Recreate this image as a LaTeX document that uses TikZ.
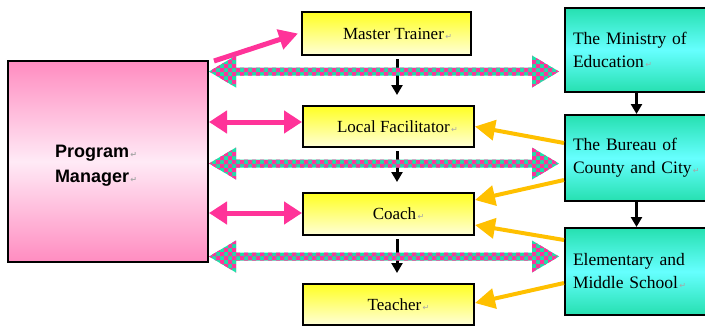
\documentclass[tikz,border=0pt]{standalone}
\usepackage{fontspec}
\setmainfont{Liberation Serif}
\newfontfamily\headfont{Liberation Sans}
\newfontfamily\symfont{DejaVu Sans}
\usetikzlibrary{arrows.meta,calc}

\definecolor{hotpink}{HTML}{FF3399}
\definecolor{chkteal}{HTML}{1EE0A8}
\definecolor{amber}{HTML}{FFC000}
\definecolor{pinkdeep}{HTML}{FF8CC0}
\definecolor{pinkpale}{HTML}{FFEAF6}
\definecolor{yel}{HTML}{FFFF22}
\definecolor{yelpale}{HTML}{FFFFD8}
\definecolor{tealtop}{HTML}{26E0B0}
\definecolor{tealmid}{HTML}{66FFFF}

% paragraph mark after each label
\newcommand\retmark{{\symfont\fontsize{8}{8}\selectfont\color{gray!70}\,↵}}

% checkered double arrow between two tips on one level:
% the outline is used as a clip, then filled with 4pt checks
\newcommand\checkarrow[2]{%
  \begin{scope}
    \clip let \p1=(#1), \p2=(#2) in
      (\x1,\y1) -- (\x1+27pt,\y1+16pt) -- (\x1+27pt,\y1+4pt) -- (\x2-27pt,\y1+4pt)
      -- (\x2-27pt,\y1+16pt) -- (\x2,\y1) -- (\x2-27pt,\y1-16pt) -- (\x2-27pt,\y1-4pt)
      -- (\x1+27pt,\y1-4pt) -- (\x1+27pt,\y1-16pt) -- cycle;
    \path (#1); \pgfgetlastxy{\cax}{\cay}%
    \pgfmathsetmacro\cpy{0-(\cay)}%
    \pgfmathtruncatemacro\jlo{floor((\cpy-4)/4)-4}%
    \pgfmathtruncatemacro\jhi{\jlo+10}%
    \fill[chkteal] (200,\cpy-20) rectangle (570,\cpy+20);
    \foreach \j in {\jlo,...,\jhi}{%
      \pgfmathtruncatemacro\ia{50+mod(\j,2)}%
      \pgfmathtruncatemacro\ib{\ia+2}%
      \fill[hotpink] \foreach \i in {\ia,\ib,...,143}{(4*\i,4*\j) rectangle ++(4,4)};
    }
  \end{scope}}

\begin{document}
\begin{tikzpicture}[x=1pt,y=-1pt,
  pmbox/.style={draw, line width=2pt, top color=pinkdeep, bottom color=pinkdeep,
    middle color=pinkpale},
  pmtext/.style={text width=106pt, align=left,
    font=\headfont\bfseries\fontsize{18}{25}\selectfont},
  ybox/.style={draw, line width=2pt, top color=yel, bottom color=yelpale,
    inner sep=0pt, font=\fontsize{17}{20}\selectfont},
  gbox/.style={draw, line width=2pt, top color=tealtop, bottom color=tealtop,
    middle color=tealmid, minimum width=143pt, text width=127pt, align=left,
    font=\fontsize{17.5}{23}\selectfont},
  blk/.style={line width=3pt, -{Triangle[length=10pt,width=11pt]}},
  pinkarrow/.style={hotpink, line width=5pt, -{Triangle[length=19pt,width=20pt]}},
  pinkdbl/.style={hotpink, line width=5pt,
    {Triangle[length=18pt,width=22pt]}-{Triangle[length=18pt,width=22pt]}},
  amberarrow/.style={amber, line width=4pt, -{Triangle[length=20pt,width=20pt]}}
]
\useasboundingbox (0,0) rectangle (705,327);
\clip (0,0) rectangle (705,327);

% boxes
\node[pmbox, minimum width=200pt, minimum height=201pt] (pm) at (108,161.5) {};
\node[pmtext] (pmlabel) at ($(pm.center)+(0,4)$) {Program\retmark\\Manager\retmark};

\node[ybox, minimum width=169pt, minimum height=43pt] (mt) at (386.5,33.5)
  {\hspace*{22pt}Master Trainer\retmark};
\node[ybox, minimum width=171pt, minimum height=41pt] (lf) at (388.5,126.5)
  {\hspace*{18pt}Local Facilitator\retmark};
\node[ybox, minimum width=171pt, minimum height=42pt] (coach) at (388.5,214)
  {\hspace*{20pt}Coach\retmark};
\node[ybox, minimum width=171pt, minimum height=41pt] (teacher) at (388.5,304.5)
  {\hspace*{20pt}Teacher\retmark};

\node[gbox, minimum height=84pt] (min) at (636.5,50)
  {The Ministry of\\Education\retmark};
\node[gbox, minimum height=86pt] (bur) at (636.5,158)
  {The Bureau of\\County and City\retmark};
\node[gbox, minimum height=87pt] (elem) at (636.5,271.5)
  {Elementary and\\Middle School\retmark};

% vertical chain of the training roles
\coordinate (axis) at (397,0);
\draw[blk, shorten <=3pt, shorten >=10pt] (mt.south -| axis) -- (lf.north -| axis);
\draw[blk, shorten <=3pt, shorten >=10pt] (lf.south -| axis) -- (coach.north -| axis);
\draw[blk, shorten <=3pt, shorten >=10pt] (coach.south -| axis) -- (teacher.north -| axis);

% vertical chain of the administrations
\draw[blk] (min) -- (bur);
\draw[blk] (bur) -- (elem);

% program manager links
\draw[pinkarrow] ($(pm.north east)+(5,1)$) -- ($(mt.west)+(-3,0)$);
\draw[pinkdbl] (pm.east |- 0,122) -- (lf.west |- 0,122);
\draw[pinkdbl] (pm.east |- 0,213) -- (coach.west |- 0,213);

% exchange with the administrations
\coordinate (k1a) at (pm.east |- 0,71.5);
\coordinate (k1b) at ($(min.west |- 0,71.5)+(-5,0)$);
\coordinate (k2a) at (pm.east |- 0,163.5);
\coordinate (k2b) at ($(bur.west |- 0,163.5)+(-5,0)$);
\coordinate (k3a) at (pm.east |- 0,256.5);
\coordinate (k3b) at ($(elem.west |- 0,256.5)+(-5,0)$);
\checkarrow{k1a}{k1b}
\checkarrow{k2a}{k2b}
\checkarrow{k3a}{k3b}

% support from the administrations
\draw[amberarrow] ($(bur.west)+(0,-15)$) -- (lf.east);
\draw[amberarrow] ($(bur.west)+(0,22)$) -- ($(coach.east)+(0,-14)$);
\draw[amberarrow] ($(elem.west)+(0,-31.5)$) -- ($(coach.east)+(0,11)$);
\draw[amberarrow] ($(elem.west)+(0,11.5)$) -- ($(teacher.east)+(0,-1.5)$);
\end{tikzpicture}
\end{document}
